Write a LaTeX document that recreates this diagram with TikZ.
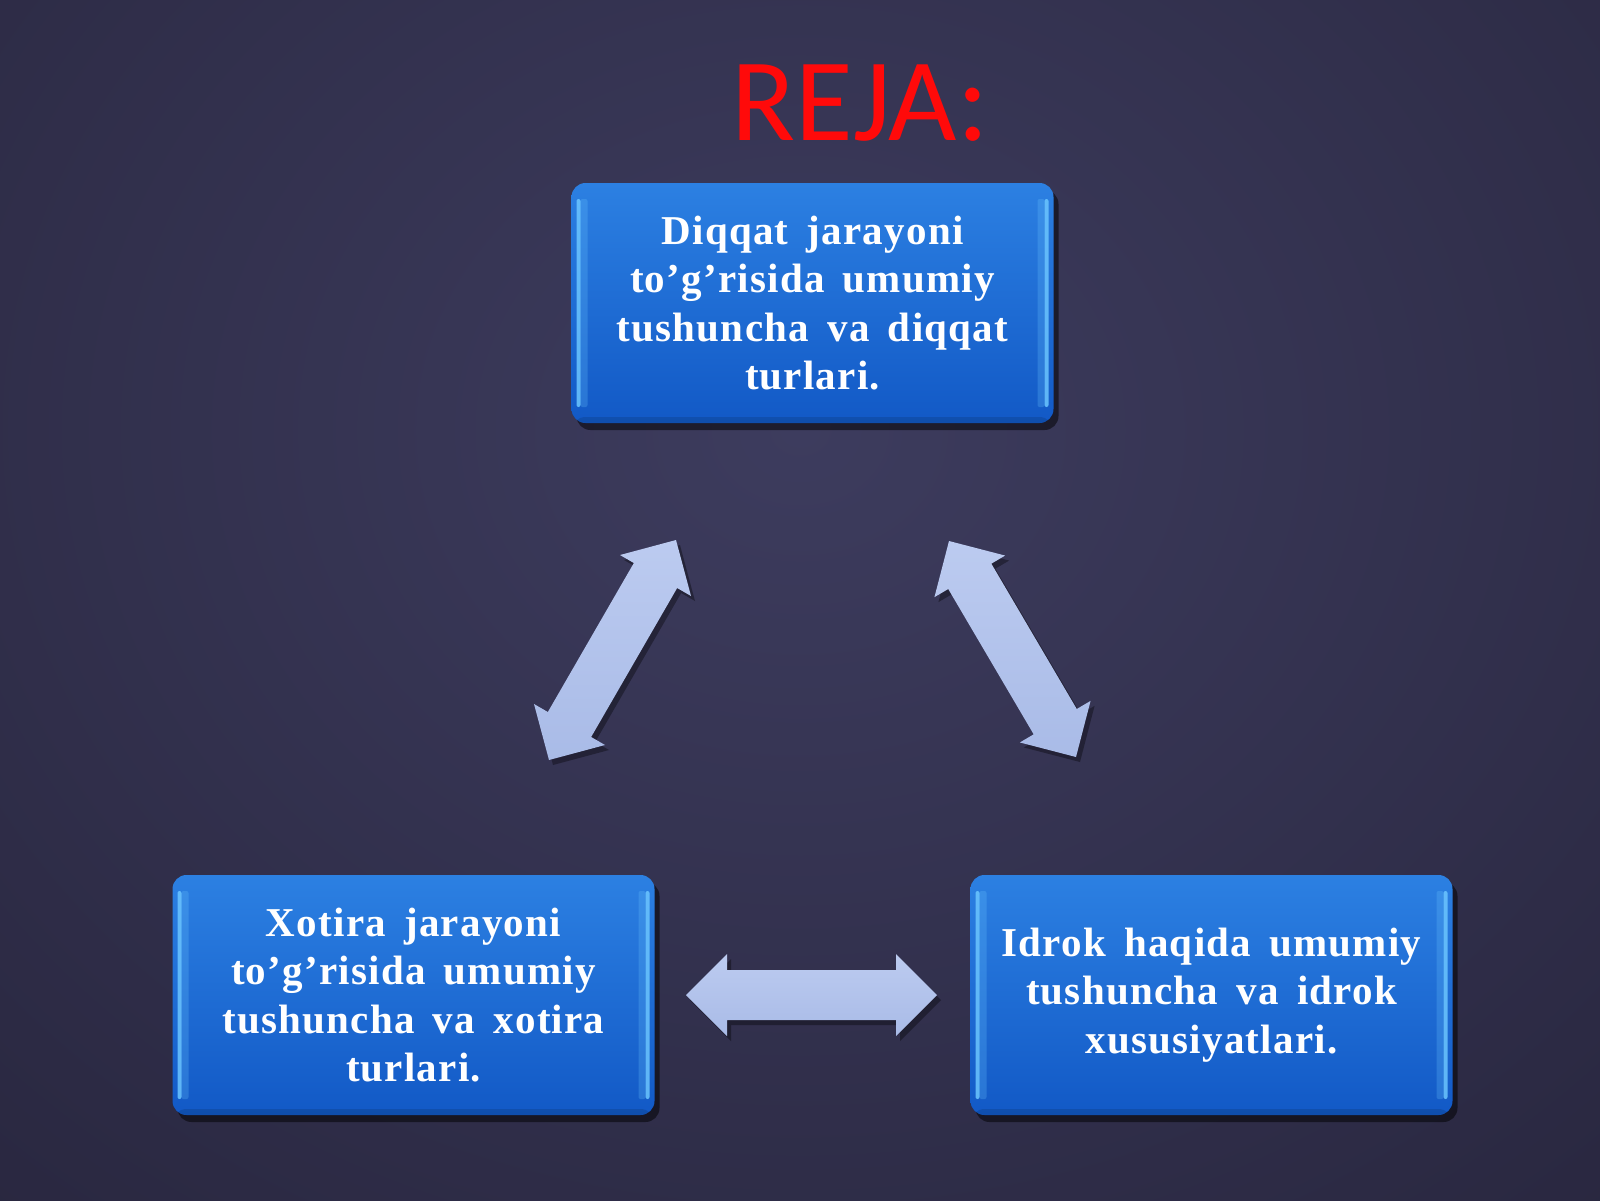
\documentclass[tikz,border=0pt]{standalone}
\usepackage{fontspec}
\setmainfont{Liberation Serif}
\newfontfamily\boxfont[LetterSpace=3,WordSpace=1.6]{Liberation Serif}
\newfontfamily\titlefont{Carlito}
\usetikzlibrary{calc,shadows}
\definecolor{bgbase}{HTML}{28263E}
\definecolor{bginner}{HTML}{3D3C5E}
\definecolor{boxtop}{HTML}{2C80E2}
\definecolor{boxbot}{HTML}{1259C6}
\definecolor{boxhl}{HTML}{6CC6FF}
\definecolor{arrowc}{HTML}{BCCBF0}
\definecolor{arrowd}{HTML}{A9BBE7}
\definecolor{titlered}{HTML}{FF0A0A}
\def\ahl{20.5pt}
\def\ahw{20.5pt}
\def\asw{12.5pt}
\newcommand\dblarrowpath[2]{(#1)
  -- ($(#1)!\ahl!(#2)!\ahw!90:(#2)$)
  -- ($(#1)!\ahl!(#2)!\asw!90:(#2)$)
  -- ($(#2)!\ahl!(#1)!\asw!-90:(#1)$)
  -- ($(#2)!\ahl!(#1)!\ahw!-90:(#1)$)
  -- (#2)
  -- ($(#2)!\ahl!(#1)!\ahw!90:(#1)$)
  -- ($(#2)!\ahl!(#1)!\asw!90:(#1)$)
  -- ($(#1)!\ahl!(#2)!\asw!-90:(#2)$)
  -- ($(#1)!\ahl!(#2)!\ahw!-90:(#2)$)
  -- cycle}
\tikzset{
  planbox/.style={rounded corners=7pt, minimum width=241pt, minimum height=120pt,
    top color=boxtop, bottom color=boxbot, text=white, align=center,
    font=\boxfont\bfseries\fontsize{20.5pt}{24.25pt}\selectfont, inner sep=0pt,
    drop shadow={shadow xshift=2.5pt, shadow yshift=-3.5pt, opacity=.5, fill=black},
    path picture={
      \fill[boxhl,opacity=.85,rounded corners=1pt] ([xshift=2.5pt,yshift=-8pt]path picture bounding box.north west) rectangle ([xshift=4.5pt,yshift=8pt]path picture bounding box.south west);
      \fill[boxhl,opacity=.25,rounded corners=1pt] ([xshift=4.5pt,yshift=-8pt]path picture bounding box.north west) rectangle ([xshift=8pt,yshift=8pt]path picture bounding box.south west);
      \fill[boxhl,opacity=.85,rounded corners=1pt] ([xshift=-2.5pt,yshift=-8pt]path picture bounding box.north east) rectangle ([xshift=-4.5pt,yshift=8pt]path picture bounding box.south east);
      \fill[boxhl,opacity=.25,rounded corners=1pt] ([xshift=-4.5pt,yshift=-8pt]path picture bounding box.north east) rectangle ([xshift=-8pt,yshift=8pt]path picture bounding box.south east);
      \fill[black,opacity=.12] (path picture bounding box.south west) rectangle ([yshift=3pt]path picture bounding box.south east);
    }},
  arrowbody/.style={top color=arrowc, bottom color=arrowd},
  arrowshadow/.style={fill=black, opacity=.35},
  titlestyle/.style={font=\titlefont\fontsize{59pt}{70pt}\selectfont, anchor=base, inner sep=0pt}
}
\begin{document}
\begin{tikzpicture}[x=0.5pt,y=-0.5pt]
\useasboundingbox (0,0) rectangle (1600,1200);
\fill[bgbase] (0,0) rectangle (1600,1200);
\begin{scope}
  \clip (0,0) rectangle (1600,1200);
  \shade[inner color=bginner, outer color=bgbase] (800,430) ellipse (1300 and 1100);
\end{scope}
% title
\node[titlestyle, text=titlered] (title) at (860,140) {REJA:};
% boxes
\node[planbox] (top) at (812.5,303) {Diqqat jarayoni\\to’g’risida umumiy\\tushuncha va diqqat\\turlari.};
\node[planbox] (left) at (413.5,995) {Xotira jarayoni\\to’g’risida umumiy\\tushuncha va xotira\\turlari.};
\node[planbox] (right) at (1211.5,995) {Idrok haqida umumiy\\tushuncha va idrok\\xususiyatlari.};
% arrow tips
\coordinate (la1) at (676,540);
\coordinate (la2) at (549,760);
\coordinate (ra1) at (949,541);
\coordinate (ra2) at (1076,757);
\coordinate (ha1) at (686,995);
\coordinate (ha2) at (937,995);
\begin{scope}[transform canvas={xshift=2pt,yshift=-2.5pt}]
  \fill[arrowshadow] \dblarrowpath{la1}{la2};
  \fill[arrowshadow] \dblarrowpath{ra1}{ra2};
  \fill[arrowshadow] \dblarrowpath{ha1}{ha2};
\end{scope}
\shade[arrowbody] \dblarrowpath{la1}{la2};
\shade[arrowbody] \dblarrowpath{ra1}{ra2};
\shade[arrowbody] \dblarrowpath{ha1}{ha2};
\end{tikzpicture}
\end{document}
